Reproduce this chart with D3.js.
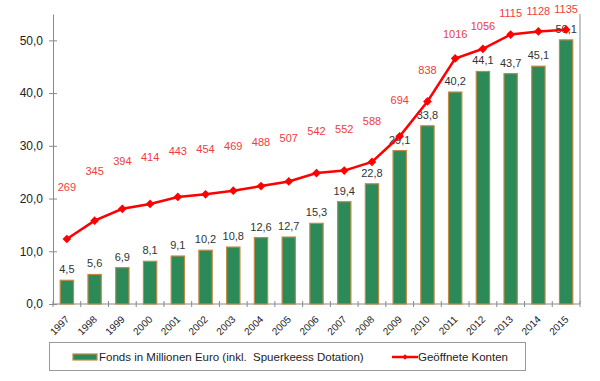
<!DOCTYPE html>
<html><head><meta charset="utf-8">
<script src="https://cdn.jsdelivr.net/npm/d3@7"></script>
<style>
html,body{margin:0;padding:0;background:#fff;}
svg{display:block;font-family:"Liberation Sans",Arial,sans-serif;}
</style></head>
<body><svg id="chart" width="600" height="381"></svg>
<script>
const years = ["1997","1998","1999","2000","2001","2002","2003","2004","2005","2006","2007","2008","2009","2010","2011","2012","2013","2014","2015"];
const fonds = [4.5,5.6,6.9,8.1,9.1,10.2,10.8,12.6,12.7,15.3,19.4,22.8,29.1,33.8,40.2,44.1,43.7,45.1,50.1];
const konten = [269,345,394,414,443,454,469,488,507,542,552,588,694,838,1016,1056,1115,1128,1135];
const yTicks = [0,10,20,30,40,50];
const seriesNames = ["Fonds in Millionen Euro (inkl.  Spuerkeess Dotation)","Geöffnete Konten"];

(function(){
const svg = d3.select("#chart");
const pL = 53, pR = 580, pT = 14, pB = 304;

const x = d3.scaleBand().domain(years).range([pL, pR]).paddingInner(0.52).paddingOuter(0.26);
const xEdge = d3.scaleLinear().domain([0, years.length]).range([pL, pR]);
const y = d3.scaleLinear().domain([0, 55]).range([pB, pT]);
const y2 = d3.scaleLinear().domain([0, 1200]).range([pB, pT]);
const yLabel = d3.scaleLinear().domain([0, 1200]).range([pB - 62, -4]);
const fmt = v => d3.format(".1f")(v).replace(".", ",");

const axisColor = "#8a8a8a";

// Y axis
const gy = svg.append("g").attr("transform", `translate(${pL},0)`)
  .call(d3.axisLeft(y).tickValues(yTicks).tickFormat(fmt).tickSizeInner(4).tickSizeOuter(0).tickPadding(6));
gy.select(".domain").attr("stroke", axisColor);
gy.selectAll(".tick line").attr("stroke", axisColor).attr("x1", 4).attr("x2", -4);
gy.selectAll(".tick text").attr("fill", "#222").style("font-size", "12px").style("font-family", "'Liberation Sans',Arial,sans-serif");

// right border line
svg.append("line").attr("x1", pR).attr("x2", pR).attr("y1", pT).attr("y2", pB).attr("stroke", axisColor);

// X axis line + boundary ticks
svg.append("line").attr("x1", pL).attr("x2", pR).attr("y1", pB).attr("y2", pB).attr("stroke", axisColor);
svg.append("g").selectAll("line").data(d3.range(years.length + 1)).join("line")
  .attr("x1", d => xEdge(d)).attr("x2", d => xEdge(d))
  .attr("y1", pB - 3).attr("y2", pB + 3).attr("stroke", axisColor);

// X labels
svg.append("g").selectAll("text").data(years).join("text")
  .attr("transform", d => `translate(${x(d) + x.bandwidth() / 2 + 3},${pB + 16}) rotate(-45)`)
  .attr("text-anchor", "end").attr("fill", "#222").style("font-size", "10px")
  .text(d => d);

// Bars
svg.append("g").selectAll("rect").data(fonds).join("rect")
  .attr("x", (d, i) => x(years[i])).attr("width", x.bandwidth())
  .attr("y", d => y(d)).attr("height", d => pB - y(d))
  .attr("fill", "#2b8a58").attr("stroke", "#c08a45").attr("stroke-width", 1.2);

// Bar labels
svg.append("g").selectAll("text").data(fonds).join("text")
  .attr("x", (d, i) => x(years[i]) + x.bandwidth() / 2)
  .attr("y", d => y(d) - 7)
  .attr("text-anchor", "middle").attr("fill", "#333").style("font-size", "11px")
  .text(d => fmt(d));

// Line
const cx = i => x(years[i]) + x.bandwidth() / 2;
const line = d3.line().x((d, i) => cx(i)).y(d => y2(d));
svg.append("path").datum(konten).attr("d", line)
  .attr("fill", "none").attr("stroke", "#ff0000").attr("stroke-width", 2.5);
svg.append("g").selectAll("path").data(konten).join("path")
  .attr("d", d3.symbol().type(d3.symbolSquare).size(38))
  .attr("transform", (d, i) => `translate(${cx(i)},${y2(d)}) rotate(45)`)
  .attr("fill", "#ff0000");

// Line labels
svg.append("g").selectAll("text").data(konten).join("text")
  .attr("x", (d, i) => cx(i)).attr("y", d => yLabel(d) + 4)
  .attr("text-anchor", "middle").attr("fill", "#f03c3c").style("font-size", "11px")
  .text(d => d);

// Legend
const lg = svg.append("g");
lg.append("rect").attr("x", 49.5).attr("y", 342.5).attr("width", 476).attr("height", 28)
  .attr("fill", "#fff").attr("stroke", "#999");
lg.append("rect").attr("x", 73).attr("y", 354).attr("width", 24).attr("height", 6)
  .attr("fill", "#2b8a58").attr("stroke", "#c08a45").attr("stroke-width", 1.2);
lg.append("text").attr("x", 99).attr("y", 361).attr("fill", "#222").style("font-size", "11.5px").style("white-space", "pre")
  .text(seriesNames[0]);
lg.append("line").attr("x1", 392).attr("x2", 418).attr("y1", 357).attr("y2", 357)
  .attr("stroke", "#ff0000").attr("stroke-width", 2.5);
lg.append("path").attr("d", d3.symbol().type(d3.symbolSquare).size(14))
  .attr("transform", "translate(405,357) rotate(45)").attr("fill", "#ff0000");
lg.append("text").attr("x", 418).attr("y", 361).attr("fill", "#222").style("font-size", "11.5px").text(seriesNames[1]);
})();
</script></body></html>
